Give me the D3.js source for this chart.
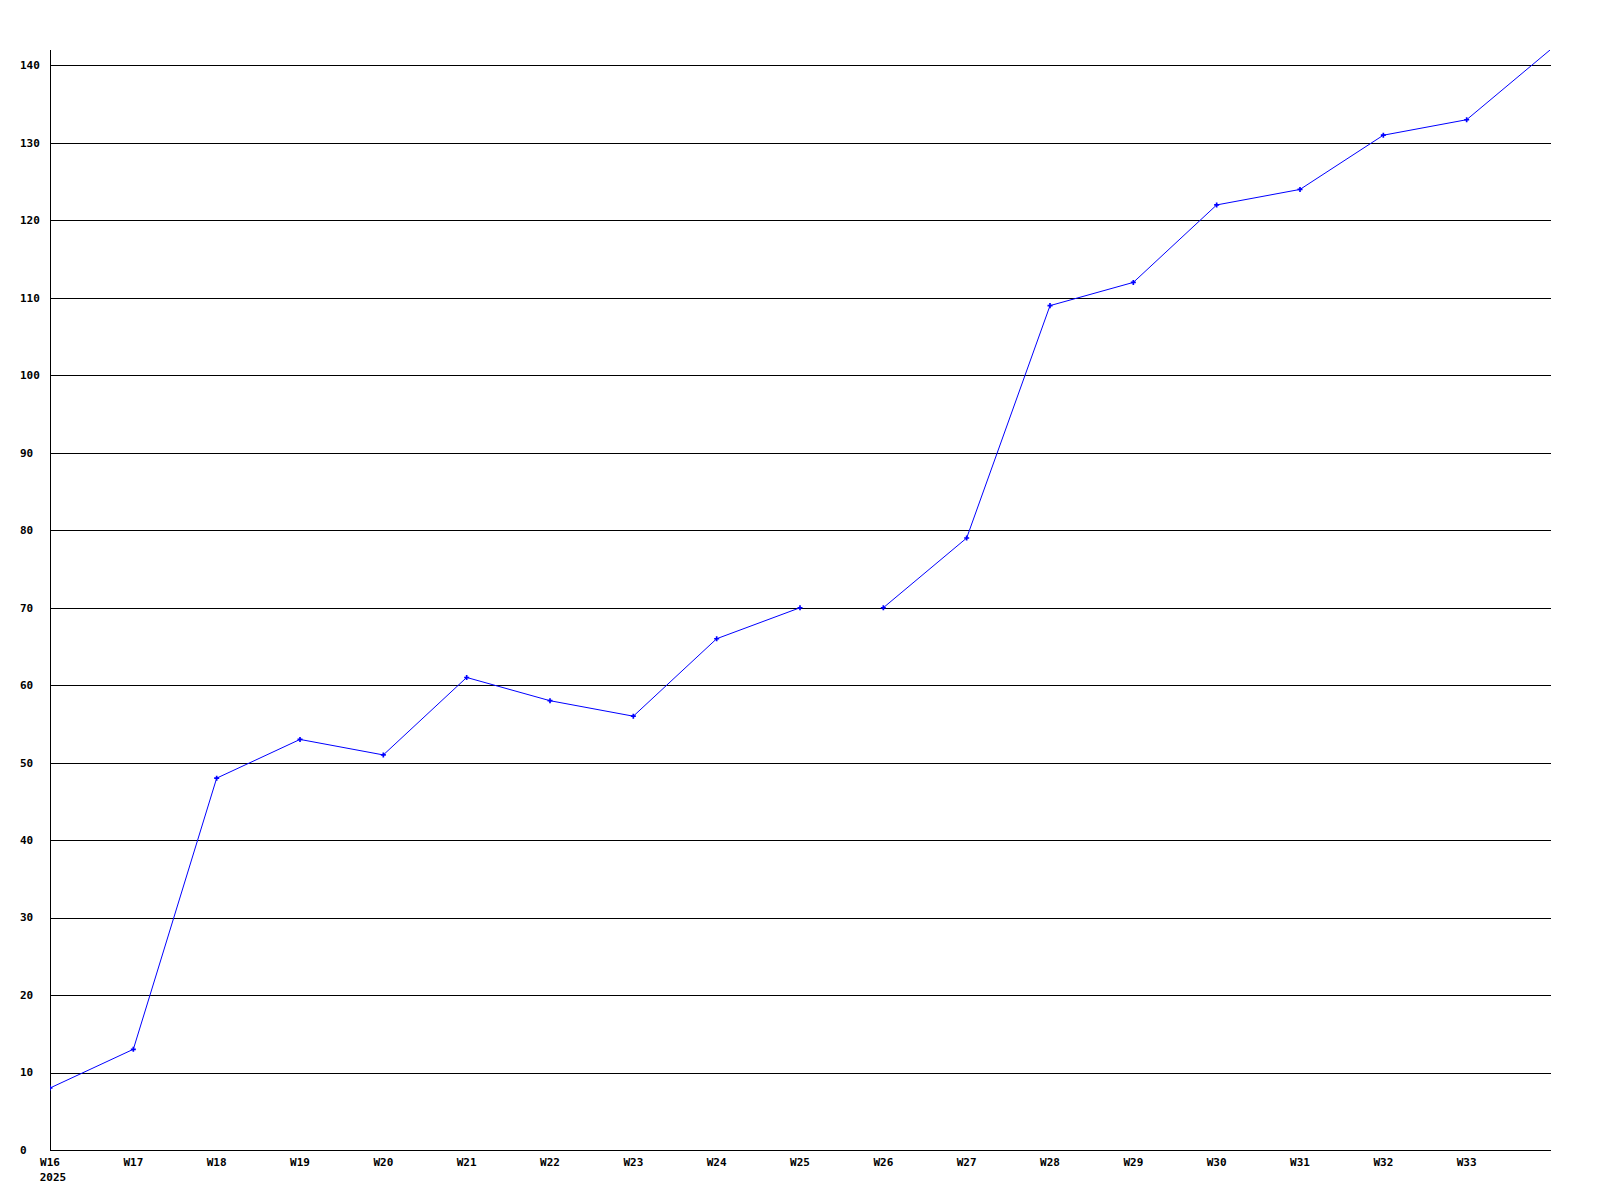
<!DOCTYPE html>
<html>
<head>
<meta charset="utf-8">
<script src="https://cdn.jsdelivr.net/npm/d3@7"></script>
<style>
  html, body { margin: 0; padding: 0; background: #fff; }
  svg { display: block; }
  text { font-family: "DejaVu Sans Mono", "Liberation Mono", monospace; font-weight: bold; font-size: 11px; fill: #000; }
</style>
</head>
<body>
<script>
// ---- data ----
const weeks = ["W16","W17","W18","W19","W20","W21","W22","W23","W24","W25","W26","W27","W28","W29","W30","W31","W32","W33","W34"];
const values = [8,13,48,53,51,61,58,56,66,70,70,79,109,112,122,124,131,133,142];
const xTickLabels = ["W16","W17","W18","W19","W20","W21","W22","W23","W24","W25","W26","W27","W28","W29","W30","W31","W32","W33"];
const yearLabel = "2025";
const yTicks = [0,10,20,30,40,50,60,70,80,90,100,110,120,130,140];
const breakBefore = ["W26"]; // no segment drawn into these weeks
const yMax = 142;

// ---- layout ----
const W = 1600, H = 1200;
const mLeft = 50, mRight = 1550, mTop = 50, mBottom = 1150;

const svg = d3.select("body").append("svg").attr("width", W).attr("height", H);

const x = d3.scalePoint().domain(weeks).range([mLeft, mRight]);
const y = d3.scaleLinear().domain([0, yMax]).range([mBottom, mTop]);

const crisp = v => Math.round(v) + 0.5;

// gridlines
svg.append("g").selectAll("line").data(yTicks.filter(t => t > 0)).join("line")
  .attr("x1", mLeft).attr("x2", mRight + 1)
  .attr("y1", d => crisp(y(d))).attr("y2", d => crisp(y(d)))
  .attr("stroke", "#000").attr("stroke-width", 1).attr("shape-rendering", "crispEdges");

// axes lines
svg.append("line").attr("x1", crisp(mLeft)).attr("x2", crisp(mLeft)).attr("y1", mTop).attr("y2", mBottom + 1)
  .attr("stroke", "#000").attr("shape-rendering", "crispEdges");
svg.append("line").attr("x1", mLeft).attr("x2", mRight + 1).attr("y1", crisp(mBottom)).attr("y2", crisp(mBottom))
  .attr("stroke", "#000").attr("shape-rendering", "crispEdges");

// y labels (left aligned at x=20)
svg.append("g").selectAll("text").data(yTicks).join("text")
  .attr("x", 20).attr("y", d => y(d)).attr("dy", "0.35em")
  .attr("text-anchor", "start")
  .text(d => d);

// x labels
svg.append("g").selectAll("text").data(xTickLabels).join("text")
  .attr("x", d => x(d)).attr("y", mBottom + 16)
  .attr("text-anchor", "middle")
  .text(d => d);
svg.append("text").attr("x", x(weeks[0]) + 3).attr("y", mBottom + 31)
  .attr("text-anchor", "middle").text(yearLabel);

// clip
svg.append("clipPath").attr("id", "plot").append("rect")
  .attr("x", mLeft).attr("y", mTop).attr("width", mRight - mLeft + 1).attr("height", mBottom - mTop + 1);

// segments
const pts = weeks.map((w, i) => ({ w, v: values[i] }));
const segments = [];
let cur = [];
pts.forEach(p => {
  if (breakBefore.includes(p.w) && cur.length) { segments.push(cur); cur = []; }
  cur.push(p);
});
if (cur.length) segments.push(cur);

const line = d3.line().x(d => x(d.w)).y(d => y(d.v));
const g = svg.append("g").attr("clip-path", "url(#plot)");
g.selectAll("path.seg").data(segments).join("path")
  .attr("class", "seg")
  .attr("d", line)
  .attr("fill", "none").attr("stroke", "#0000ff").attr("stroke-width", 1);

const sym = d3.symbol().type(d3.symbolCross).size(14);
g.selectAll("path.mk").data(pts.slice(0, pts.length - 1)).join("path")
  .attr("class", "mk")
  .attr("transform", d => `translate(${x(d.w)},${y(d.v)})`)
  .attr("d", sym)
  .attr("fill", "#0000ff");
</script>
</body>
</html>
